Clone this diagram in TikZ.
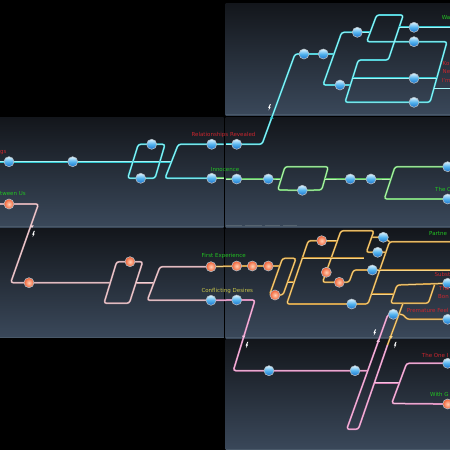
\documentclass[tikz,border=0pt]{standalone}
\usepackage{fontspec}
\setmainfont{DejaVu Sans}
\usetikzlibrary{backgrounds}
\definecolor{pantop}{HTML}{13161B}
\definecolor{panbot}{HTML}{3A485A}
\definecolor{panedge}{HTML}{4A5969}
\definecolor{dashc}{HTML}{56636F}
\definecolor{cyanedge}{HTML}{30C4CE}
\definecolor{cyancore}{HTML}{A4F4F6}
\definecolor{greenedge}{HTML}{5CC060}
\definecolor{greencore}{HTML}{BCF2B4}
\definecolor{pinkedge}{HTML}{C0959C}
\definecolor{pinkcore}{HTML}{F0D2D6}
\definecolor{magedge}{HTML}{D07CB0}
\definecolor{magcore}{HTML}{F6C0E0}
\definecolor{goldedge}{HTML}{C08A30}
\definecolor{goldcore}{HTML}{F6D488}
\definecolor{lblred}{HTML}{C8262E}
\definecolor{lblgreen}{HTML}{22C422}
\definecolor{lblyellow}{HTML}{C8C448}
\definecolor{bluetop}{HTML}{DCF4FF}
\definecolor{bluemid}{HTML}{52B2EE}
\definecolor{bluebot}{HTML}{1C70C8}
\definecolor{orangein}{HTML}{FFD0B4}
\definecolor{orangeout}{HTML}{F25E32}
\definecolor{nodering}{HTML}{B4BEC6}
\tikzset{
	linebase/.style={line width=0.5pt, double distance=0.75pt, rounded corners=2.5pt},
	cyanline/.style={linebase, draw=cyanedge, double=cyancore},
	greenline/.style={linebase, draw=greenedge, double=greencore},
	pinkline/.style={linebase, draw=pinkedge, double=pinkcore},
	magline/.style={linebase, draw=magedge, double=magcore},
	goldline/.style={linebase, draw=goldedge, double=goldcore},
	bnode/.style={circle, inner sep=0pt, minimum size=10pt, draw=nodering, line width=0.6pt, top color=bluetop, bottom color=bluebot, middle color=bluemid},
	onode/.style={circle, inner sep=0pt, minimum size=10pt, draw=nodering, line width=0.6pt, inner color=orangein, outer color=orangeout},
	lbl/.style={font=\fontsize{5.5}{6}\selectfont, inner sep=0pt},
	pics/tipdn/.style={code={\fill (-1.8,-1.2) -- (1.8,-1.2) -- (0,1.6) -- cycle;}},
	pics/tipup/.style={code={\fill (-1.8,1.2) -- (1.8,1.2) -- (0,-1.6) -- cycle;}},
	pics/bolt/.style={code={\fill[white] (0.6,-3.2) -- (1.6,-3.2) -- (0.4,-0.3) -- (1.4,-0.3) -- (-0.8,3.2) -- (-0.1,0.6) -- (-1.1,0.6) -- cycle;}}
}
\begin{document}
\begin{tikzpicture}[x=1pt,y=-1pt]
	\useasboundingbox (0,0) rectangle (450,450);
	\node[bnode] (nA1) at (304,54) {};
	\node[bnode] (nA2) at (323.3,54) {};
	\node[bnode] (nA3) at (357.3,32.3) {};
	\node[bnode] (nA4) at (340,85) {};
	\node[bnode] (nA5) at (414,27.3) {};
	\node[bnode] (nA6) at (414,41.7) {};
	\node[bnode] (nA7) at (414,78.3) {};
	\node[bnode] (nA8) at (414,102.3) {};
	\node[bnode] (nB1) at (9,161.7) {};
	\node[bnode] (nB2) at (72.7,161.7) {};
	\node[bnode] (nB3) at (151.7,144.3) {};
	\node[bnode] (nB4) at (140.7,178.3) {};
	\node[bnode] (nB5) at (211.7,144.3) {};
	\node[bnode] (nB6) at (211.7,178.3) {};
	\node[onode] (nB7) at (9,204) {};
	\node[bnode] (nC1) at (236.7,144.3) {};
	\node[bnode] (nC2) at (236.7,179) {};
	\node[bnode] (nC3) at (268.3,179) {};
	\node[bnode] (nC4) at (302.3,190.3) {};
	\node[bnode] (nC5) at (350.3,179) {};
	\node[bnode] (nC6) at (371,179) {};
	\node[bnode] (nC7) at (447.7,166.7) {};
	\node[bnode] (nC8) at (447.7,199) {};
	\node[onode] (nD1) at (29,282.7) {};
	\node[onode] (nD2) at (130,261.7) {};
	\node[onode] (nD3) at (211,266.7) {};
	\node[bnode] (nD4) at (211,300.3) {};
	\node[onode] (nE1) at (236.7,266) {};
	\node[onode] (nE2) at (252.3,266) {};
	\node[onode] (nE3) at (268.3,266) {};
	\node[onode] (nE4) at (275,295) {};
	\node[onode] (nE5) at (321.7,240.7) {};
	\node[onode] (nE6) at (326.3,272.3) {};
	\node[onode] (nE7) at (339.3,282.3) {};
	\node[bnode] (nE8) at (383.3,237.3) {};
	\node[bnode] (nE9) at (377.7,252.3) {};
	\node[bnode] (nE10) at (372.3,270) {};
	\node[bnode] (nE11) at (351.7,304) {};
	\node[bnode] (nE12) at (393.3,314.3) {};
	\node[bnode] (nE13) at (447.7,283.3) {};
	\node[bnode] (nE14) at (447.7,319.3) {};
	\node[bnode] (nE15) at (236.7,300) {};
	\node[bnode] (nF1) at (269,370.7) {};
	\node[bnode] (nF2) at (355,370.7) {};
	\node[bnode] (nF3) at (447.7,363.3) {};
	\node[onode] (nF4) at (447.7,404) {};
	\begin{scope}[on background layer]
		\fill[black] (0,0) rectangle (450,450);
		\foreach \x/\y/\w/\h in {225.5/3/224.5/112, 0/117/223.5/110, 225.5/117/224.5/110, 0/228/223.5/109.5, 225.5/228/224.5/110, 225.5/339/224.5/111}{
			\shade[top color=pantop, bottom color=panbot] (\x,\y) rectangle ++(\w,\h);
			\fill[panedge] (\x,\y+\h-1) rectangle ++(\w,1);
		}
		\foreach \a/\b in {225.5/242, 245/262, 265/280, 283/297}
			\fill[dashc] (\a,224.8) rectangle (\b,226);
		\draw[cyanline] (nC1.center) -- (262,144.3) -- (295,54) -- (nA1.center) -- (nA2.center) -- (334,54);
		\draw[cyanline] (nA3.center) -- (341.7,32.3) -- (323,85) -- (nA4.center) -- (350.6,85);
		\draw[cyanline] (nA3.center) -- (370,32.3);
		\draw[cyanline] (nA6.center) -- (366.7,41.7) -- (376.7,15) -- (403.3,15) -- (388.3,60) -- (358.3,60) -- (345,102.3) -- (nA8.center) -- (430,102.3) -- (447,41.7) -- cycle;
		\draw[cyanline] (399.2,27.3) -- (nA5.center) -- (450,27.3);
		\draw[cyanline] (352.9,78.3) -- (nA7.center) -- (436.7,78.3);
		\draw[cyanline] (433.9,88.5) -- (450,88.5);
		\draw[cyanline] (0,161.7) -- (nB1.center) -- (nB2.center) -- (171.8,161.7);
		\draw[cyanline] (138.3,144.3) -- (nB3.center) -- (165,144.3) -- (155,178.3) -- (nB4.center) -- (127.7,178.3) -- cycle;
		\draw[cyanline] (223.5,144.3) -- (nB5.center) -- (178.3,144.3) -- (165,178.3) -- (nB6.center);
		\draw[greenline] (nB6.center) -- (223.5,178.3);
		\draw[cyanline] (225.5,144.3) -- (nC1.center);
		\draw[greenline] (225.5,179) -- (nC2.center) -- (nC3.center) -- (281.2,179);
		\draw[greenline] (285,166.7) -- (328.3,166.7) -- (321.7,190) -- (nC4.center) -- (277.7,190) -- cycle;
		\draw[greenline] (324.8,179) -- (nC5.center) -- (nC6.center) -- (390.9,179);
		\draw[greenline] (nC7.center) -- (395,166.7) -- (384.3,199) -- (nC8.center);
		\draw[pinkline] (0,204) -- (nB7.center) -- (38.5,204) -- (10.7,282.7) -- (nD1.center) -- (110.3,282.7);
		\draw[pinkline] (116.7,261.7) -- (nD2.center) -- (142.7,261.7) -- (129.3,303.3) -- (104,303.3) -- cycle;
		\draw[pinkline] (135.9,282.7) -- (153.9,282.7);
		\draw[pinkline] (nD3.center) -- (160,266.7) -- (147.3,300.3) -- (nD4.center);
		\draw[goldline] (nD3.center) -- (nE1.center) -- (nE2.center) -- (nE3.center) -- (279.5,266);
		\draw[magline] (nD4.center) -- (nE15.center) -- (255,300) -- (233.3,370.7) -- (nF1.center) -- (nF2.center) -- (367.4,370.7);
		\draw[goldline] (282.5,258.3) -- (296,258.3) -- (283,295) -- (nE4.center) -- (269.5,295) -- cycle;
		\draw[goldline] (287.6,282) -- (294.1,282);
		\draw[goldline] (nE5.center) -- (308.3,240.7) -- (286.7,304) -- (nE11.center) -- (368,304) -- (389.5,241.7) -- (450,241.7);
		\draw[goldline] (371.6,237.3) -- (nE8.center) -- (389.5,241.7);
		\draw[goldline] (nE5.center) -- (337.4,240.7);
		\draw[goldline] (nE10.center) -- (353.5,270) -- (349,282.3) -- (nE7.center) -- (322.5,282.3) -- (341,230.7) -- (374,230.7) -- (366.3,252.3) -- (nE9.center) -- (385.8,252.3);
		\draw[goldline] (nE10.center) -- (450,270);
		\draw[goldline] (302.3,258) -- (364.2,258);
		\draw[goldline] (371.5,294) -- (393.8,294);
		\draw[goldline] (nE13.center) -- (397,285) -- (390.7,303.3) -- (428.3,303.3) -- (434.5,285);
		\draw[goldline] (nE12.center) -- (403,314.3) -- (407,319.3) -- (nE14.center);
		\draw[goldline] (403,303.3) -- (387.5,345);
		\draw[magline] (387.5,345) -- (358.3,429.3) -- (346.7,429.3) -- (388,314.3) -- (nE12.center);
		\draw[magline] (375.1,382.7) -- (399.5,382.7);
		\draw[magline] (nF3.center) -- (406.7,363.3) -- (391.7,403.5) -- (nF4.center);
	\end{scope}
	\pic[color=cyanedge] at (271.7,117.3) {tipup};
	\pic[color=pinkcore] at (32,226.5) {tipdn};
	\pic[color=magcore] at (243.6,336.8) {tipdn};
	\pic[color=goldcore] at (391,337.2) {tipdn};
	\pic[color=magcore] at (378.2,340.7) {tipup};
	\pic at (269.3,107.3) {bolt};
	\pic at (33.3,234) {bolt};
	\pic at (374.5,332.5) {bolt};
	\pic at (246.7,345) {bolt};
	\pic at (395,345) {bolt};
	\node[lbl, text=lblred, anchor=west] (tGs) at (0,152.7) {gs};
	\node[lbl, text=lblred] (tRR) at (223.5,135.3) {Relationships Revealed};
	\node[lbl, text=lblgreen, anchor=west] (tIn) at (210.7,169.5) {Innocence};
	\node[lbl, text=lblgreen, anchor=west] (tBU) at (0,193.3) {tween Us};
	\node[lbl, text=lblgreen] (tFE) at (223.7,256) {First Experience};
	\node[lbl, text=lblyellow] (tCD) at (227.3,290.7) {Conflicting Desires};
	\node[lbl, text=lblgreen, anchor=west] (tWa) at (441.7,17.3) {Wa};
	\node[lbl, text=lblred, anchor=west] (tKo) at (442.5,63.3) {Ko};
	\node[lbl, text=lblred, anchor=west] (tNe) at (442.5,71.7) {Ne};
	\node[lbl, text=lblred, anchor=west] (tIm) at (441.5,80) {I'm};
	\node[lbl, text=lblgreen, anchor=west] (tTC) at (435,189.3) {The C};
	\node[lbl, text=lblgreen, anchor=west] (tPa) at (429,234) {Partne};
	\node[lbl, text=lblred, anchor=west] (tSu) at (434.5,274) {Subst};
	\node[lbl, text=lblred, anchor=west] (tTh) at (439,288.3) {The};
	\node[lbl, text=lblred, anchor=west] (tBo) at (438,296.5) {Bon};
	\node[lbl, text=lblred, anchor=west] (tPF) at (406.7,310.3) {Premature Feel};
	\node[lbl, text=lblred, anchor=west] (tOI) at (421.7,355) {The One I};
	\node[lbl, text=lblgreen, anchor=west] (tWG) at (430,394) {With G};
\end{tikzpicture}
\end{document}
